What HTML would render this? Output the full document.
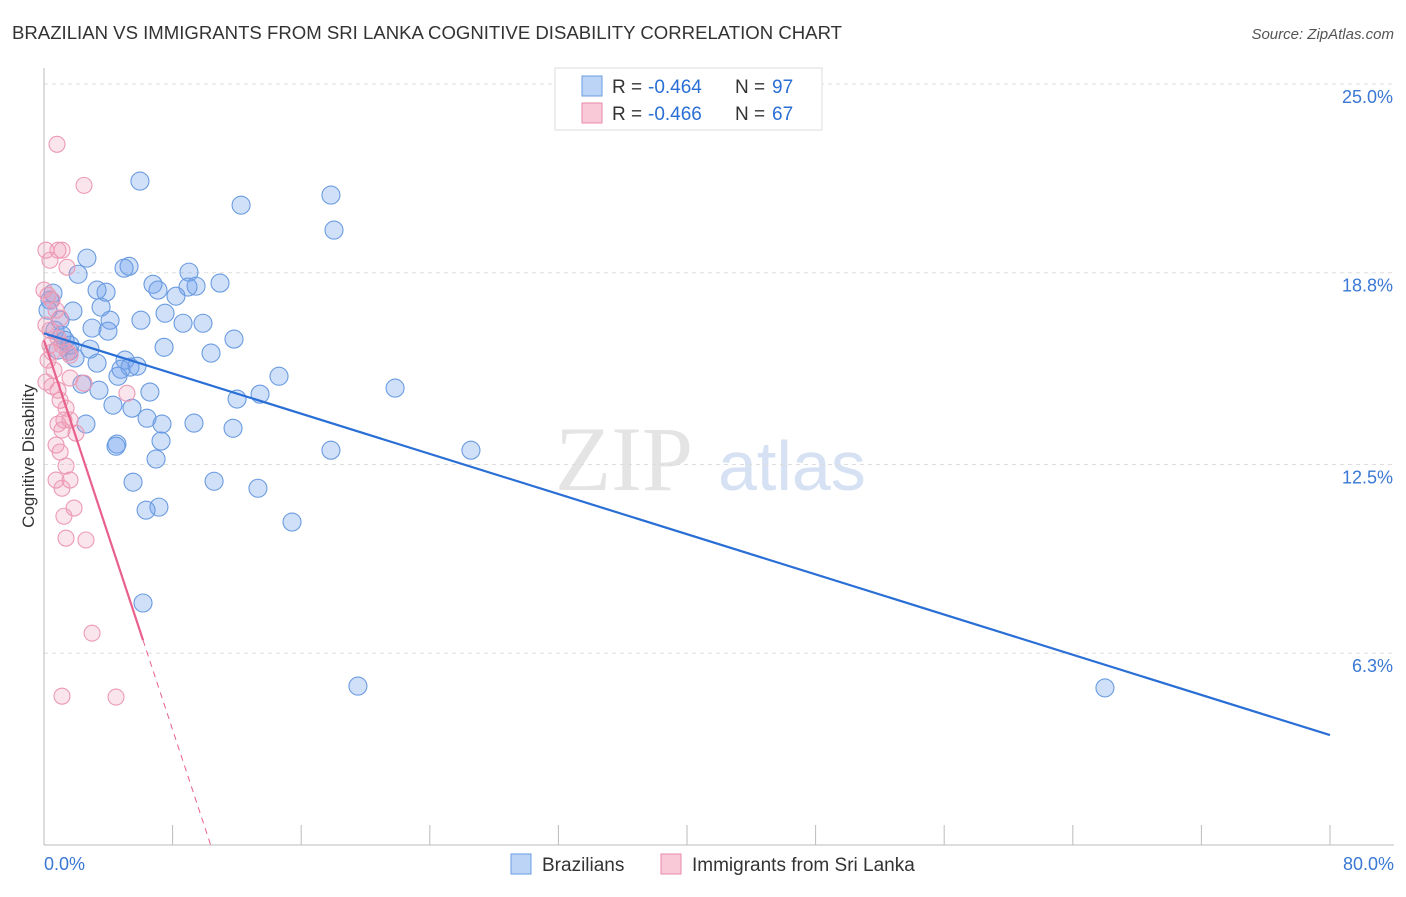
<!DOCTYPE html>
<html><head><meta charset="utf-8"><style>
body{margin:0;background:#fff;font-family:"Liberation Sans",sans-serif;}
</style></head><body>
<svg id="chart" width="1406" height="892" xmlns="http://www.w3.org/2000/svg" font-family="Liberation Sans, sans-serif">
<text x="12" y="39" font-size="18" fill="#333" textLength="830" lengthAdjust="spacingAndGlyphs">BRAZILIAN VS IMMIGRANTS FROM SRI LANKA COGNITIVE DISABILITY CORRELATION CHART</text>
<text x="1394" y="39" font-size="15" fill="#555" text-anchor="end" font-style="italic">Source: ZipAtlas.com</text>
<text x="555" y="490" font-size="92" fill="#e4e4e4" font-family="Liberation Serif, serif">ZIP</text>
<text x="718" y="490" font-size="70" fill="#d6e2f3">atlas</text>
<g id="grid"></g><g id="axes"></g><g id="marks"></g><g id="lines"></g>
<text transform="translate(34,456) rotate(-90)" font-size="17" fill="#333" text-anchor="middle">Cognitive Disability</text>
<g>
<rect x="555" y="68" width="267" height="62" fill="#fff" stroke="#ddd"/>
<rect x="582" y="76" width="20" height="20" fill="#bcd4f6" stroke="#6a9be0"/>
<text x="612" y="93" font-size="19" fill="#333">R =</text>
<text x="648" y="93" font-size="19" fill="#2a6fd6">-0.464</text>
<text x="735" y="93" font-size="19" fill="#333">N =</text>
<text x="772" y="93" font-size="19" fill="#2a6fd6">97</text>
<rect x="582" y="103" width="20" height="20" fill="#f9c9d8" stroke="#e88aa8"/>
<text x="612" y="120" font-size="19" fill="#333">R =</text>
<text x="648" y="120" font-size="19" fill="#2a6fd6">-0.466</text>
<text x="735" y="120" font-size="19" fill="#333">N =</text>
<text x="772" y="120" font-size="19" fill="#2a6fd6">67</text>
</g>
<g>
<rect x="511" y="854" width="20" height="20" fill="#bcd4f6" stroke="#6a9be0"/>
<text x="542" y="871" font-size="19" fill="#333">Brazilians</text>
<rect x="661" y="854" width="20" height="20" fill="#f9c9d8" stroke="#e88aa8"/>
<text x="692" y="871" font-size="19" fill="#333">Immigrants from Sri Lanka</text>
</g>
</svg>
<script>
const yTicks=[6.3,12.5,18.8,25.0];
const yTickLabels=["6.3%","12.5%","18.8%","25.0%"];
const xTickLabels=["0.0%","80.0%"];
const blueX=[5.97,17.85,12.26,18.04,2.67,5.29,2.12,4.98,9.02,6.78,10.95,3.30,3.86,8.96,9.46,8.21,7.09,3.55,1.80,7.53,6.03,9.89,4.11,8.65,2.99,3.98,11.82,7.47,10.39,2.86,1.56,5.04,3.30,5.79,14.62,4.79,5.35,4.60,21.84,2.36,3.42,6.59,13.44,12.01,4.29,5.47,6.41,9.33,7.34,2.61,11.76,7.28,4.54,4.48,17.85,26.56,6.97,5.54,10.58,13.31,7.15,6.35,15.43,6.16,19.53,66.0,0.56,0.37,1.0,0.68,1.31,1.62,0.25,0.87,1.93,1.12];
const blueY=[21.81,21.35,21.02,20.20,19.28,19.01,18.75,18.95,18.82,18.42,18.46,18.23,18.16,18.33,18.36,18.03,18.23,17.67,17.54,17.47,17.24,17.14,17.24,17.14,16.98,16.88,16.62,16.35,16.16,16.29,16.22,15.93,15.83,15.73,15.40,15.63,15.70,15.40,15.01,15.14,14.94,14.88,14.81,14.65,14.45,14.35,14.02,13.86,13.83,13.83,13.69,13.27,13.17,13.10,12.97,12.97,12.68,11.92,11.95,11.72,11.10,11.00,10.61,7.95,5.22,5.16,18.13,17.90,17.24,16.91,16.58,16.42,17.57,16.26,16.0,16.75];
const pinkX=[0.81,2.49,0.12,0.87,1.12,0.37,1.43,0,0.25,0.5,0.75,1.0,0.12,0.37,0.87,1.12,1.49,0.25,0.62,1.62,0.12,0.5,0.87,2.49,5.16,1.0,1.37,1.62,0.87,1.12,1.99,0.75,1.0,1.37,1.62,0.75,1.12,1.87,1.24,1.37,2.61,2.99,1.12,4.48,1.24,0.37,0.5,1.62];
const pinkY=[23.02,21.67,19.54,19.54,19.54,19.21,18.98,18.23,18.06,17.90,17.57,17.31,17.08,16.91,16.65,16.42,16.19,15.93,15.60,15.34,15.21,15.07,14.94,15.17,14.84,14.61,14.35,13.96,13.83,13.63,13.53,13.14,12.91,12.45,11.99,11.99,11.72,11.07,10.80,10.08,10.02,6.96,4.89,4.86,13.96,16.42,16.19,16.09];
const blueTrend=[16.81,3.61];
const pinkTrend=[16.58,6.73,6.16];
const NS="http://www.w3.org/2000/svg";
const X0=44,X1=1330,Y0=845,YT=84;
const sx=v=>X0+(v/80)*(X1-X0);
const sy=v=>Y0-(v/25)*(Y0-YT);
function mk(tag,attrs,parent){const e=document.createElementNS(NS,tag);for(const k in attrs)e.setAttribute(k,attrs[k]);document.getElementById(parent).appendChild(e);return e;}
yTicks.forEach((t,i)=>{
 const g=mk('line',{x1:X0,x2:1394,y1:sy(t),y2:sy(t),stroke:'#ddd','stroke-dasharray':'4,4'},'grid');
 
 
 const l=mk('text',{x:1393,y:sy(t)+19,'font-size':18,fill:'#3a78d4','text-anchor':'end'},'axes');
 l.textContent=yTickLabels[i];
 
 
});
const ax=mk('line',{x1:X0,x2:X0,y1:68,y2:Y0,stroke:'#bbb'},'axes');


const bx=mk('line',{x1:X0,x2:1394,y1:Y0,y2:Y0,stroke:'#bbb'},'axes');


for(let i=0;i<=10;i++){const t=mk('line',{x1:sx(i*8),x2:sx(i*8),y1:Y0,y2:Y0-20,stroke:'#bbb'},'axes');
 
 }
[[0,'start',X0],[80,'end',1394]].forEach((d,i)=>{const l=mk('text',{x:d[2],y:870,'font-size':18,fill:'#3a78d4','text-anchor':d[1]},'axes');l.textContent=xTickLabels[i];
 
 });
blueX.forEach((v,i)=>{const c=mk('circle',{cx:sx(v),cy:sy(blueY[i]),r:9,fill:'rgba(110,160,235,0.32)',stroke:'#6a9be0','stroke-width':1.1},'marks');
 
 });
pinkX.forEach((v,i)=>{const c=mk('circle',{cx:sx(v),cy:sy(pinkY[i]),r:8,fill:'rgba(240,150,180,0.25)',stroke:'#ec9ab4','stroke-width':1.1},'marks');
 
 });
const bl=mk('line',{x1:sx(0),y1:sy(blueTrend[0]),x2:sx(80),y2:sy(blueTrend[1]),stroke:'#2a6fd6','stroke-width':2.2},'lines');


const slope=(pinkTrend[1]-pinkTrend[0])/pinkTrend[2];
const xz=-pinkTrend[0]/slope;
const pl=mk('line',{x1:sx(0),y1:sy(pinkTrend[0]),x2:sx(pinkTrend[2]),y2:sy(pinkTrend[1]),stroke:'#e8608c','stroke-width':2.2},'lines');


const pd=mk('line',{x1:sx(pinkTrend[2]),y1:sy(pinkTrend[1]),x2:sx(xz),y2:sy(0),stroke:'#e8608c','stroke-width':1,'stroke-dasharray':'6,5'},'lines');


</script>
</body></html>
